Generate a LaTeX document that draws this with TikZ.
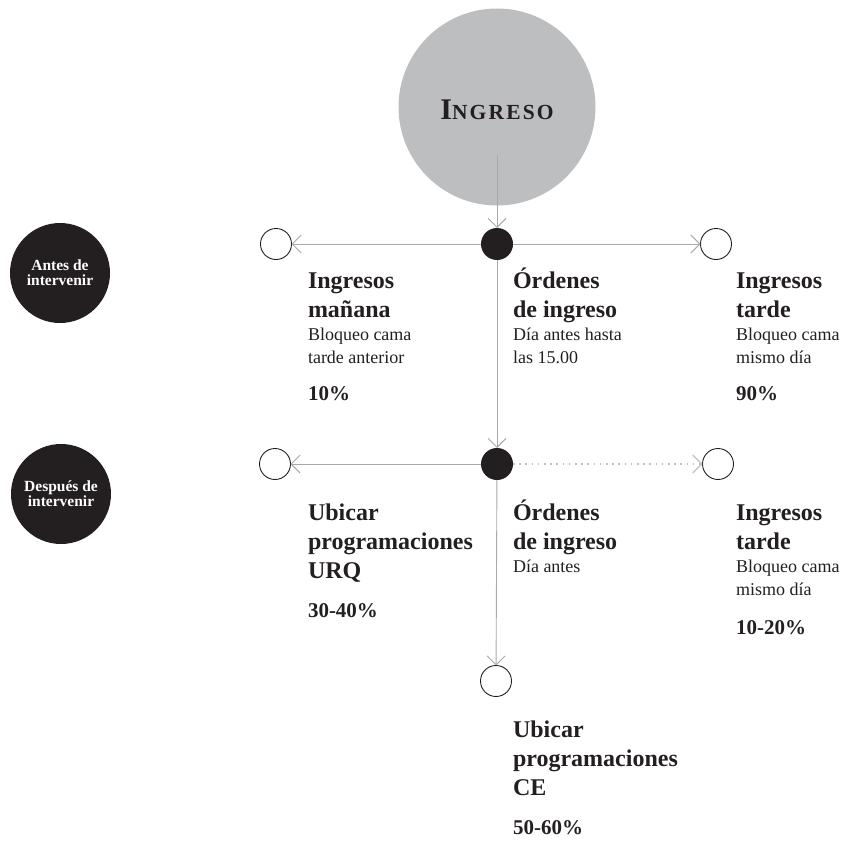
\documentclass[tikz,border=0pt]{standalone}
\usepackage{fontspec}
\setmainfont{Liberation Serif}
\newfontfamily\capsfont[LetterSpace=10]{Liberation Serif}
\usetikzlibrary{arrows.meta}

\definecolor{ink}{HTML}{231F20}
\definecolor{wire}{HTML}{A7A9AC}
\definecolor{haze}{HTML}{BCBEC0}
\definecolor{faint}{HTML}{BFC1C3}

% bold heading lines and regular note lines; the first baseline is the node's base
\newcommand\headlines[1]{{\fontsize{24}{29}\selectfont\bfseries\begin{tabular}[t]{@{}l@{}}#1\end{tabular}}}
\newcommand\notelines[1]{{\fontsize{18}{23}\selectfont\begin{tabular}[t]{@{}l@{}}#1\end{tabular}}}

\begin{document}
\begin{tikzpicture}[x=1pt,y=-1pt,
  every node/.style={inner sep=0pt, outer sep=0pt, text=ink},
  hub/.style={circle, fill=ink, minimum size=32pt},
  leaf/.style={circle, draw=ink, line width=0.9pt, fill=white, minimum size=31pt},
  phase/.style={circle, fill=ink, minimum size=100pt, text=white, align=center,
                font=\fontsize{15.5}{15}\selectfont\bfseries},
  conn/.style={draw=wire, line width=0.9pt, -{Straight Barb[length=9pt,width=18pt]}},
  hint/.style={conn, draw=faint, line width=1.1pt, dash pattern=on 1.6pt off 4.6pt},
  txt/.style={anchor=base west},
  pct/.style={anchor=base west, font=\fontsize{21}{25}\selectfont\bfseries}]

\useasboundingbox (0,0) rectangle (850,840);

% main source circle
\node[circle, fill=haze, minimum size=197pt] (ingreso) at (497,107) {};
\node[anchor=base] (ingresoText) at (497,120)
  {\capsfont\bfseries\fontsize{30}{30}\selectfont I\fontsize{21.5}{30}\selectfont NGRESO};
\coordinate (src) at (497,155);

% phase markers
\node[phase] (antes) at (60,273) {Antes de\\intervenir};
\node[phase] (despues) at (61,494) {Después de\\intervenir};

% first row
\node[hub]  (hubA)   at (497,244) {};
\node[leaf] (leftA)  at (276,244) {};
\node[leaf] (rightA) at (716,244) {};

% second row
\node[hub]  (hubB)   at (497,464) {};
\node[leaf] (leftB)  at (275,464) {};
\node[leaf] (rightB) at (718,464) {};

% bottom
\node[leaf] (bottom) at (496,681) {};

% connectors
\draw[conn] (src) -- (hubA);
\draw[conn] (hubA) -- (leftA);
\draw[conn] (hubA) -- (rightA);
\draw[conn] (hubA) -- (hubB);
\draw[conn] (hubB) -- (leftB);
\draw[hint] (hubB) -- (rightB);
\draw[conn] (hubB) -- (bottom);

% first row texts
\node[txt] (headLA) at (308,288) {\headlines{Ingresos\\mañana}};
\node[txt] (noteLA) at (308,340) {\notelines{Bloqueo cama\\tarde anterior}};
\node[pct] (pctLA)  at (308,400) {10\%};

\node[txt] (headMA) at (513,288) {\headlines{Órdenes\\de ingreso}};
\node[txt] (noteMA) at (513,340) {\notelines{Día antes hasta\\las 15.00}};

\node[txt] (headRA) at (736,288) {\headlines{Ingresos\\tarde}};
\node[txt] (noteRA) at (736,340) {\notelines{Bloqueo cama\\mismo día}};
\node[pct] (pctRA)  at (736,400) {90\%};

% second row texts
\node[txt] (headLB) at (308,520) {\headlines{Ubicar\\programaciones\\URQ}};
\node[pct] (pctLB)  at (308,617) {30-40\%};

\node[txt] (headMB) at (513,520) {\headlines{Órdenes\\de ingreso}};
\node[txt] (noteMB) at (513,572) {\notelines{Día antes}};

\node[txt] (headRB) at (736,520) {\headlines{Ingresos\\tarde}};
\node[txt] (noteRB) at (736,572) {\notelines{Bloqueo cama\\mismo día}};
\node[pct] (pctRB)  at (736,634) {10-20\%};

% bottom texts
\node[txt] (headC) at (513,737) {\headlines{Ubicar\\programaciones\\CE}};
\node[pct] (pctC)  at (513,834) {50-60\%};
\end{tikzpicture}
\end{document}
